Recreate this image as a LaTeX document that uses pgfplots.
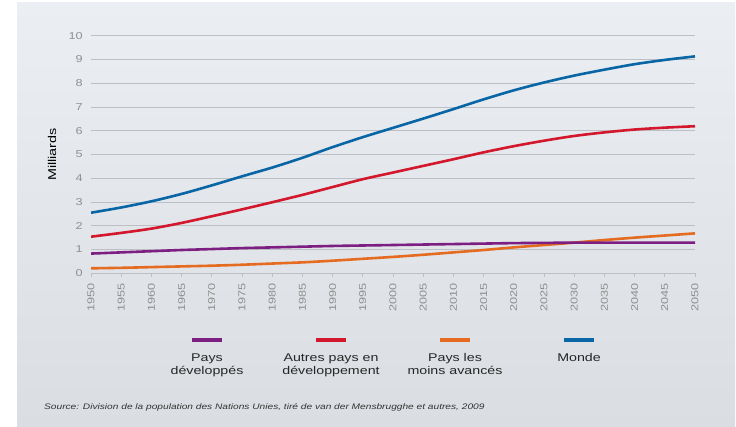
\documentclass[border=0pt]{standalone}
\usepackage{pgfplots}
\pgfplotsset{compat=1.18}
\usepackage{fontspec}
\setmainfont{Liberation Sans}[FakeStretch=1.27]

\definecolor{panelTop}{HTML}{EBEEF2}
\definecolor{panelBot}{HTML}{DADDE2}
\definecolor{gridc}{HTML}{BCBFC3}
\definecolor{tickc}{HTML}{8F8F8F}
\definecolor{cPurple}{HTML}{7D1F82}
\definecolor{cRed}{HTML}{D3172C}
\definecolor{cOrange}{HTML}{E46B1F}
\definecolor{cBlue}{HTML}{0865A6}

% annee, developpes, autres en developpement, moins avances, monde
\pgfplotstableread{
annee dev autres pma monde
1950 0.83 1.54 0.21 2.55
1955 0.88 1.70 0.23 2.77
1960 0.93 1.88 0.26 3.03
1965 0.98 2.12 0.29 3.34
1970 1.02 2.40 0.32 3.70
1975 1.06 2.69 0.36 4.08
1980 1.09 2.99 0.41 4.45
1985 1.12 3.30 0.46 4.86
1990 1.15 3.63 0.53 5.31
1995 1.17 3.96 0.61 5.73
2000 1.19 4.24 0.69 6.12
2005 1.21 4.52 0.78 6.51
2010 1.23 4.80 0.88 6.91
2015 1.25 5.09 0.98 7.32
2020 1.27 5.35 1.09 7.70
2025 1.28 5.58 1.19 8.03
2030 1.29 5.78 1.29 8.32
2035 1.29 5.93 1.40 8.57
2040 1.29 6.05 1.50 8.80
2045 1.29 6.13 1.59 8.98
2050 1.29 6.19 1.68 9.13
}\pop

\begin{document}
\begin{tikzpicture}
\useasboundingbox (0,0) rectangle (736pt,427pt);
\fill[white] (0,0) rectangle (736pt,427pt);
\shade[top color=panelTop, bottom color=panelBot] (17pt,0) rectangle (735pt,424pt);
\begin{axis}[
    at={(91pt,153.7pt)}, anchor=south west,
    scale only axis, width=604pt, height=237.6pt,
    xmin=1950, xmax=2050, ymin=0, ymax=10,
    xtick={1950,1955,...,2050}, ytick={0,1,...,10},
    axis line style={draw=none},
    ymajorgrids, major grid style={color=gridc, line width=0.9pt},
    xtick pos=left, xtick align=outside, major tick length=3.5pt,
    xtick style={color=gridc, line width=0.8pt},
    ytick style={draw=none},
    tick label style={font=\fontsize{10}{12}\selectfont, color=tickc},
    /pgf/number format/1000 sep={},
    /pgf/number format/assume math mode=true,
    xticklabel style={rotate=90, anchor=east, inner sep=0pt},
    xticklabel shift=6pt,
    yticklabel style={inner sep=0pt, xshift=-8pt},
    ylabel={Milliards},
    ylabel style={at={(axis description cs:0,0.5)}, anchor=center, yshift=39pt,
        font=\fontsize{11.3}{13}\selectfont, color=black},
]
\addplot[smooth, line width=2.6pt, color=cOrange] table[x=annee, y=pma] {\pop};
\addplot[smooth, line width=2.6pt, color=cPurple] table[x=annee, y=dev] {\pop};
\addplot[smooth, line width=2.6pt, color=cRed] table[x=annee, y=autres] {\pop};
\addplot[smooth, line width=2.6pt, color=cBlue] table[x=annee, y=monde] {\pop};
\end{axis}

% legende
\begin{scope}[every node/.style={anchor=base, font=\fontsize{11.2}{13}\selectfont, color=black!85, inner sep=0pt}]
\draw[cPurple, line width=4pt] (192pt,87pt) -- (222pt,87pt);
\draw[cRed, line width=4pt] (316pt,87pt) -- (346pt,87pt);
\draw[cOrange, line width=4pt] (440pt,87pt) -- (470pt,87pt);
\draw[cBlue, line width=4pt] (564pt,87pt) -- (594pt,87pt);
\node at (207pt,65pt) {Pays};
\node at (207pt,52pt) {développés};
\node at (331pt,65pt) {Autres pays en};
\node at (331pt,52pt) {développement};
\node at (455pt,65pt) {Pays les};
\node at (455pt,52pt) {moins avancés};
\node at (579pt,65pt) {Monde};
\end{scope}
\node[anchor=base west, inner sep=0pt, font=\itshape\fontsize{8}{10}\selectfont, color=black!80]
    at (44pt,17pt) {Source: Division de la population des Nations Unies, tiré de van der Mensbrugghe et autres, 2009};
\end{tikzpicture}
\end{document}
